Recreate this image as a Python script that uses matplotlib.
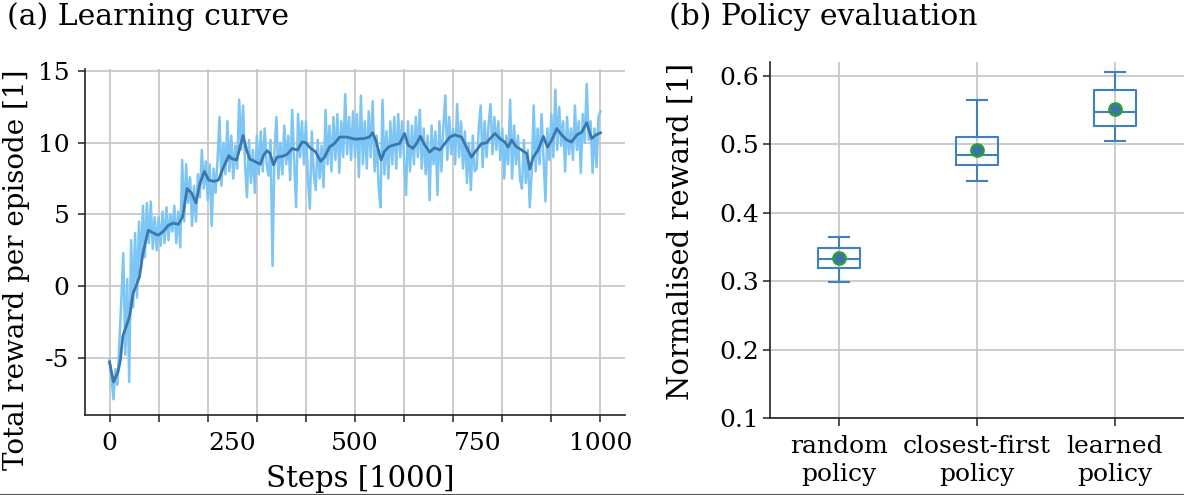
import numpy as np
import matplotlib
matplotlib.use("Agg")
import matplotlib.pyplot as plt
from matplotlib.lines import Line2D

plt.rcParams['font.family'] = ['DejaVu Serif']

# learning curve, raw episode rewards (read every 4 steps)
raw_steps = np.arange(0, 1001, 4)
raw_reward = [
    -5.2, -6.5, -7.9, -5.8, -6.9, -4.0, -1.0, 2.3, -4.8, 0.5, -6.7, 3.2, -1.5, 3.7, -0.8, 4.5, 1.2, 5.6, 2.0, 5.8, 3.0, 5.9, 2.6, 4.8, 2.5,
    4.8, 2.8, 5.2, 3.0, 5.5, 3.2, 5.0, 3.8, 5.6, 3.0, 5.2, 2.7, 8.8, 4.5, 8.5, 5.8, 7.6, 4.2, 7.0, 4.5, 7.8, 6.2, 9.5, 6.8, 8.7,
    6.0, 8.5, 4.2, 8.2, 6.5, 8.8, 11.8, 7.0, 10.0, 7.8, 11.5, 8.0, 10.5, 7.5, 9.8, 8.2, 13.0, 9.5, 12.6, 8.5, 6.2, 10.2, 7.2, 9.5, 6.5,
    10.5, 7.8, 10.8, 8.0, 11.0, 8.5, 7.7, 10.2, 1.4, 9.5, 11.8, 7.5, 10.0, 7.8, 11.2, 8.5, 10.5, 7.4, 12.3, 8.8, 5.5, 12.0, 9.0, 11.5, 8.5,
    11.5, 7.5, 5.4, 10.8, 7.8, 6.7, 10.2, 7.5, 9.8, 6.9, 12.3, 8.5, 11.2, 8.0, 11.8, 8.8, 12.0, 7.9, 11.5, 9.0, 13.4, 9.2, 11.8, 8.8, 12.2,
    9.0, 12.0, 7.6, 13.3, 8.5, 11.5, 8.2, 12.2, 9.0, 12.9, 8.0, 10.5, 7.0, 5.5, 13.0, 7.8, 10.8, 7.5, 11.5, 8.5, 11.8, 8.2, 12.0, 9.0, 11.5,
    8.8, 6.35, 11.5, 8.0, 11.2, 8.5, 11.8, 9.0, 12.3, 8.2, 11.0, 7.8, 10.5, 6.0, 11.2, 8.5, 10.8, 6.35, 11.5, 8.0, 11.2, 13.3, 8.8, 11.8, 9.2,
    11.0, 8.5, 12.7, 9.0, 11.5, 8.2, 10.8, 7.2, 10.0, 6.7, 10.5, 8.0, 8.2, 11.0, 12.6, 8.3, 11.5, 9.0, 11.2, 12.7, 9.2, 11.8, 9.5, 11.5, 8.8,
    11.0, 7.5, 10.5, 8.5, 13.0, 7.5, 11.2, 8.5, 10.5, 7.5, 6.8, 10.2, 7.2, 9.5, 5.5, 8.0, 12.6, 8.0, 11.0, 8.5, 12.0, 9.0, 5.9, 11.0, 8.8,
    12.0, 9.0, 13.7, 9.5, 12.5, 9.8, 11.5, 8.0, 11.8, 9.2, 11.0, 8.8, 12.6, 9.5, 11.5, 7.9, 12.0, 10.0, 14.1, 10.2, 11.5, 7.9, 11.0, 8.3, 11.8, 12.2,
]

# smoothed curve
smooth_steps = [0, 8, 17, 22, 27, 34, 41, 48, 54, 61, 68, 79, 89, 99, 109, 120, 130, 140, 149, 158, 167, 176, 184, 193,
                202, 212, 222, 232, 243, 248, 259, 265, 272, 279, 286, 296, 307, 314, 321, 327, 334, 341, 352, 362,
                372, 383, 392, 400, 410, 419, 430, 438, 448, 458, 469, 483, 500, 519, 529, 536, 543, 553, 560, 570,
                580, 591, 601, 608, 618, 627, 633, 642, 652, 662, 673, 683, 693, 703, 717, 727, 737, 748, 758, 768,
                778, 785, 795, 805, 812, 819, 828, 839, 850, 856, 863, 873, 884, 892, 901, 911, 921, 931, 941, 952,
                962, 972, 982, 991, 1000]
smooth_reward = [-5.3, -6.7, -6.0, -5.2, -3.5, -2.8, -2.1, -0.5, 0.0, 0.65, 2.3, 3.9, 3.7, 3.55, 3.8, 4.25, 4.4, 4.3, 4.85, 6.8, 6.5, 5.8, 7.15, 8.0,
                 7.4, 7.3, 7.4, 8.3, 9.1, 8.9, 8.8, 9.6, 10.5, 9.5, 8.85, 8.7, 8.5, 9.15, 9.45, 9.25, 8.45, 9.0, 9.05, 9.2,
                 9.6, 9.5, 10.05, 10.0, 9.6, 9.4, 8.7, 9.0, 9.7, 9.95, 10.4, 10.4, 10.25, 10.3, 10.4, 10.7, 10.1, 8.8, 9.4, 9.75,
                 9.85, 9.95, 10.65, 9.85, 9.6, 10.05, 10.45, 9.85, 9.35, 9.65, 9.5, 9.95, 10.4, 10.55, 10.4, 9.7, 9.0, 9.5, 9.95, 10.0,
                 10.4, 10.65, 10.3, 10.05, 9.7, 10.2, 9.75, 9.5, 9.25, 8.15, 9.0, 9.5, 10.45, 9.7, 10.2, 11.0, 10.55, 10.2, 10.05, 10.55,
                 10.75, 11.4, 10.3, 10.55, 10.7]

# policy evaluation box stats
policies = ['random\npolicy', 'closest-first\npolicy', 'learned\npolicy']
q1 = [0.319, 0.469, 0.526]
med = [0.332, 0.484, 0.547]
q3 = [0.348, 0.511, 0.579]
whislo = [0.2985, 0.446, 0.505]
whishi = [0.364, 0.565, 0.605]
means = [0.333, 0.492, 0.551]

grid_c = '#c4c4c4'
spine_c = '#222222'
box_c = '#3f80bf'

fig = plt.figure(figsize=(11.84, 4.95), dpi=100)

# (a) learning curve
ax1 = fig.add_axes([85/1184, 1-415/495, 540/1184, 346/495])
ax1.plot(raw_steps, raw_reward, color='#7cc5f4', lw=1.8, zorder=2)
ax1.plot(smooth_steps, smooth_reward, color='#3b76ad', lw=2.0, zorder=3)
ax1.set_xlim(-50, 1050)
ax1.set_ylim(-9, 15.15)
ax1.set_yticks([-5, 0, 5, 10, 15])
ax1.set_yticklabels(['-5', '0', '5', '10', '15'])
# labels every 250, grid + tick marks every 100
ax1.set_xticks([0, 250, 500, 750, 1000])
ax1.set_xticklabels(['0', '250', '500', '750', '1000'])
ax1.set_xticks(np.arange(0, 1001, 100), minor=True)
ax1.xaxis.remove_overlapping_locs = False
ax1.tick_params(axis='x', which='major', length=0, pad=12, labelsize=18)
ax1.tick_params(axis='x', which='minor', length=5, width=1.1, color=spine_c)
ax1.tick_params(axis='y', length=5, width=1.1, color=spine_c, pad=6, labelsize=18)
ax1.xaxis.grid(True, which='minor', color=grid_c, lw=1.2)
ax1.yaxis.grid(True, which='major', color=grid_c, lw=1.2)
ax1.set_axisbelow(True)

# (b) policy evaluation
ax2 = fig.add_axes([770/1184, 1-418/495, 414/1184, 356/495])
stats = []
for i in range(len(policies)):
    stats.append(dict(med=med[i], q1=q1[i], q3=q3[i], whislo=whislo[i],
                      whishi=whishi[i], mean=means[i], fliers=[], label=policies[i]))
line_kw = dict(color=box_c, lw=1.5)
ax2.bxp(stats, positions=[1, 2, 3], widths=0.3, showmeans=True, showfliers=False,
        boxprops=line_kw, whiskerprops=line_kw, capprops=line_kw, medianprops=line_kw,
        meanprops=dict(marker='o', markerfacecolor='#3a73b0', markeredgecolor='#2ca02c',
                       markersize=9, markeredgewidth=1.6))
ax2.set_xlim(0.5, 3.5)
ax2.set_ylim(0.1, 0.62)
ax2.set_yticks([0.1, 0.2, 0.3, 0.4, 0.5, 0.6])
ax2.set_yticklabels(['0.1', '0.2', '0.3', '0.4', '0.5', '0.6'])
ax2.set_xticks([1, 2, 3])
ax2.set_xticklabels(policies, linespacing=1.3)
ax2.tick_params(axis='x', length=6, width=1.1, color=spine_c, pad=6, labelsize=18)
ax2.tick_params(axis='y', length=5, width=1.1, color=spine_c, pad=3, labelsize=18)
ax2.grid(True, color=grid_c, lw=1.2)
ax2.set_axisbelow(True)

for ax in (ax1, ax2):
    ax.spines['top'].set_visible(False)
    ax.spines['right'].set_visible(False)
    for s in ('left', 'bottom'):
        ax.spines[s].set_color(spine_c)
        ax.spines[s].set_linewidth(1.2)

fig.text(7/1184, 1-25/495, '(a) Learning curve', fontsize=21.5, va='baseline', ha='left')
fig.text(669/1184, 1-25/495, '(b) Policy evaluation', fontsize=21.5, va='baseline', ha='left')
fig.text(17/1184, 1-270/495, 'Total reward per episode [1]', fontsize=20, rotation=90, ha='center', va='center')
fig.text(681/1184, 1-231/495, 'Normalised reward [1]', fontsize=21, rotation=90, ha='center', va='center')
fig.text(360/1184, 1-487/495, 'Steps [1000]', fontsize=21, ha='center', va='baseline')

fig.add_artist(Line2D([0, 1], [0.5/495, 0.5/495], color='#555555', lw=1.5))

fig.savefig('out.png', dpi=100)
